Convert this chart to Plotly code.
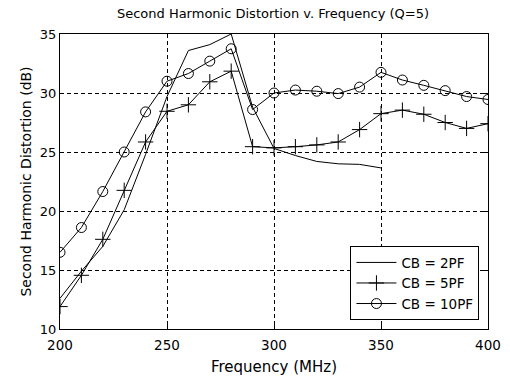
import plotly.graph_objects as go

freq_2pf = [200, 210, 220, 230, 240, 250, 260, 270, 280, 290, 300, 310, 320, 330, 340, 350]
cb_2pf = [12.6, 14.9, 17.0, 20.1, 24.8, 29.7, 33.6, 34.1, 35.0, 28.8, 25.3, 24.7, 24.2, 24.0, 23.95, 23.65]

freq = [200, 210, 220, 230, 240, 250, 260, 270, 280, 290, 300, 310, 320, 330, 340, 350, 360, 370, 380, 390, 400]
cb_5pf = [11.9, 14.55, 17.6, 21.75, 25.85, 28.45, 29.0, 30.95, 31.85, 25.45, 25.35, 25.45, 25.6, 25.85, 26.9, 28.25, 28.55, 28.2, 27.5, 27.0, 27.4]
cb_10pf = [16.5, 18.6, 21.65, 25.0, 28.4, 31.0, 31.65, 32.7, 33.75, 28.6, 30.0, 30.25, 30.15, 29.95, 30.5, 31.75, 31.1, 30.65, 30.2, 29.7, 29.45]

x_ticks = [200, 250, 300, 350, 400]
y_ticks = [10, 15, 20, 25, 30, 35]

FONT = "DejaVu Sans, Verdana, sans-serif"

fig = go.Figure()
fig.add_trace(go.Scatter(x=freq_2pf, y=cb_2pf, mode="lines", name="CB = 2PF",
                         line=dict(color="black", width=1)))
fig.add_trace(go.Scatter(x=freq, y=cb_5pf, mode="lines+markers", name="CB = 5PF",
                         line=dict(color="black", width=1),
                         marker=dict(symbol="cross-thin-open", size=11,
                                     line=dict(color="black", width=1), color="black")))
fig.add_trace(go.Scatter(x=freq, y=cb_10pf, mode="lines+markers", name="CB = 10PF",
                         line=dict(color="black", width=1),
                         marker=dict(symbol="circle-open", size=10,
                                     line=dict(color="black", width=1), color="black")))

axis_common = dict(showline=True, linecolor="black", linewidth=1, mirror="ticks",
                   ticks="inside", ticklen=4, tickcolor="black",
                   showgrid=True, gridcolor="black", gridwidth=1, griddash="4px,3px",
                   zeroline=False, automargin=False)

fig.update_xaxes(range=[200, 400], tickvals=x_ticks, ticktext=[str(v) for v in x_ticks],
                 tickfont=dict(family=FONT, size=13.5, color="black"),
                 ticklabelstandoff=4,
                 title=dict(text="Frequency (MHz)", font=dict(family=FONT, size=15, color="black"),
                            standoff=9),
                 **axis_common)
fig.update_yaxes(range=[10, 35], tickvals=y_ticks, ticktext=[str(v) for v in y_ticks],
                 tickfont=dict(family=FONT, size=13, color="black"),
                 title=dict(text="Second Harmonic Distortion (dB)",
                            font=dict(family=FONT, size=14, color="black"), standoff=4),
                 **axis_common)

fig.update_layout(
    width=510, height=383,
    margin=dict(l=60, r=22, t=34, b=54),
    paper_bgcolor="white", plot_bgcolor="white",
    font=dict(family=FONT, size=13, color="black"),
    title=dict(text="Second Harmonic Distortion v. Frequency (Q=5)",
               font=dict(family=FONT, size=13, color="black"),
               x=273 / 510, xanchor="center",
               y=1 - 13.5 / 383, yanchor="middle", yref="container"),
    legend=dict(x=0.98, y=0.03, xanchor="right", yanchor="bottom",
                bgcolor="white", bordercolor="black", borderwidth=1,
                font=dict(family=FONT, size=13.5, color="black"),
                tracegroupgap=0, itemwidth=40),
    showlegend=True,
)

fig.write_html("out.html")
